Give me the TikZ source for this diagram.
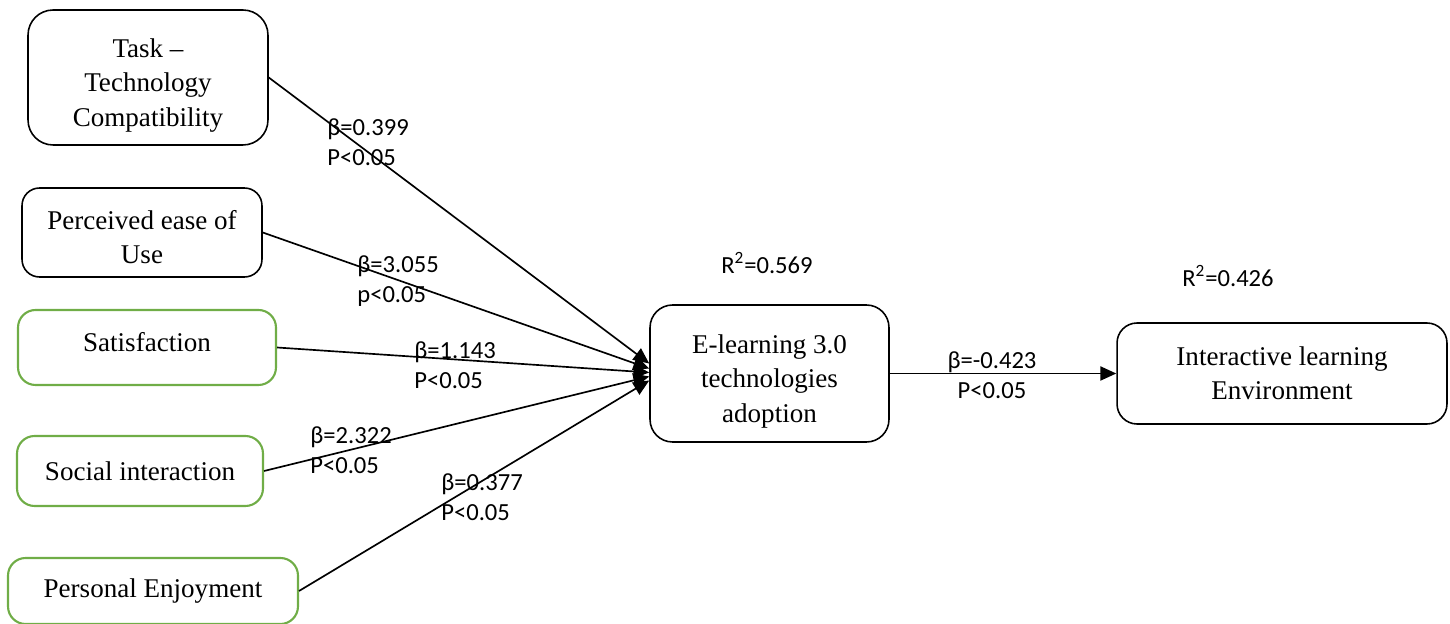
\documentclass[tikz,border=0pt]{standalone}
\usepackage{fontspec}
\setmainfont{Liberation Serif}
\newfontfamily\lblfont{Carlito}
\usetikzlibrary{arrows.meta}
\definecolor{boxgreen}{HTML}{70AD47}
\tikzset{
  cons/.style={draw=black,line width=0.9pt,rounded corners=0.35cm,align=center,
    inner sep=2pt,font=\fontsize{15.4}{19.6}\selectfont},
  gcons/.style={cons,draw=boxgreen,line width=1.2pt},
  lbl/.style={font=\lblfont\fontsize{14}{17}\selectfont,align=left,inner sep=0pt,anchor=west},
  arr/.style={-{Triangle[length=9pt,width=8pt]},line width=0.95pt},
}
\begin{document}
\begin{tikzpicture}[x=0.02cm,y=-0.02cm]
\useasboundingbox (0,0) rectangle (1450,624);
\node[cons,minimum width=4.8cm,minimum height=2.7cm,rounded corners=0.5cm] (ttc) at (148,77.5) {Task --\\Technology\\Compatibility\\[-25pt]};
\node[cons,minimum width=4.8cm,minimum height=1.78cm] (peou) at (142,232.5) {Perceived ease of\\Use\\[-25pt]};
\node[gcons,minimum width=5.16cm,minimum height=1.5cm] (sat) at (147,347.5) {Satisfaction\\[-13pt]};
\node[gcons,minimum width=4.92cm,minimum height=1.4cm] (soc) at (140,471) {Social interaction};
\node[gcons,minimum width=5.8cm,minimum height=1.32cm] (enj) at (153,591) {Personal Enjoyment};
\node[cons,minimum width=4.78cm,minimum height=2.74cm,rounded corners=0.45cm] (elt) at (769.5,373.5) {E-learning 3.0\\technologies\\adoption\\[-25pt]};
\node[cons,minimum width=6.6cm,minimum height=2.02cm,rounded corners=0.4cm] (ile) at (1282,373.5) {Interactive learning\\Environment};
% paths into adoption
\draw[arr] (ttc.east) -- ([yshift=0.2cm]elt.west);
\draw[arr] (peou.east) -- ([yshift=0.1cm]elt.west);
\draw[arr] (sat.east) -- ([yshift=0.02cm]elt.west);
\draw[arr] (soc.east) -- ([yshift=-0.06cm]elt.west);
\draw[arr] (enj.east) -- ([yshift=-0.14cm]elt.west);
\draw[arr] (elt.east) -- (ile.west);
% coefficients
\node[lbl] (b1) at (327,142) {β=0.399\\P<0.05};
\node[lbl] (b2) at (357,281) {β=3.055\\p<0.05};
\node[lbl] (b3) at (414,365) {β=1.143\\P<0.05};
\node[lbl] (b4) at (310,450) {β=2.322\\P<0.05};
\node[lbl] (b5) at (441,497) {β=0.377\\P<0.05};
\node[lbl,align=center,anchor=center] (b6) at (992,375) {β=-0.423\\P<0.05};
\node[lbl,anchor=center] (r1) at (767,263) {R\textsuperscript{2}=0.569};
\node[lbl,anchor=center] (r2) at (1228,276) {R\textsuperscript{2}=0.426};
\end{tikzpicture}
\end{document}
